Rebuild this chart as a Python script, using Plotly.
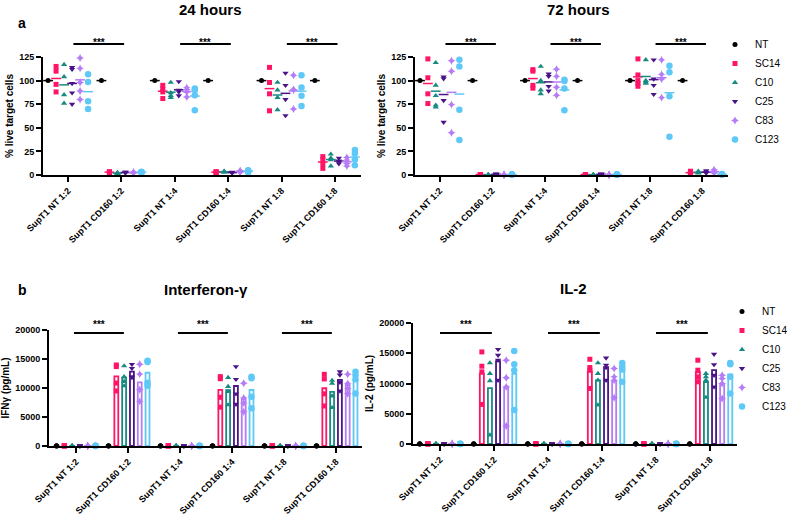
import plotly.graph_objects as go

# ---------------- data ----------------
categories = ["SupT1 NT 1:2", "SupT1 CD160 1:2", "SupT1 NT 1:4",
              "SupT1 CD160 1:4", "SupT1 NT 1:8", "SupT1 CD160 1:8"]
series = ["NT", "SC14", "C10", "C25", "C83", "C123"]

# % live target cells, 24 hours (replicates per category)
kill_24h = {
    "NT":   [[100], [100], [100], [100], [100], [100]],
    "SC14": [[115, 110, 96, 88], [3.5, 3, 2.5, 3], [95, 91, 88, 81], [3.5, 3, 3, 2.5], [114, 98, 86, 68], [19.5, 16.5, 12, 7]],
    "C10":  [[117, 104, 85, 76], [2.5, 2, 1.5, 2], [98, 87, 84, 82], [4, 3, 3.5, 3], [98, 90, 82, 69], [22, 18, 16, 9.5]],
    "C25":  [[114, 112, 97, 87, 75], [3, 2.5, 3, 2], [99, 90, 88, 84], [2.5, 2, 3, 2.5], [108, 95, 80, 63], [18, 15, 14, 12]],
    "C83":  [[124, 113, 98, 89, 80], [3, 2.5, 3, 2], [92.6, 90.5, 88, 82.7], [4, 3.5, 4.5, 3], [105.6, 90.5, 90, 70], [18.6, 15.8, 12.3, 9.5]],
    "C123": [[106.6, 98.5, 78, 70], [3.5, 3, 3, 2.5], [91.5, 90, 84.5, 68.6], [5, 4.5, 3.5, 3], [105.6, 92.6, 84, 73], [26.4, 22.9, 16.5, 10.2]],
}

# % live target cells, 72 hours
kill_72h = {
    "NT":   [[100], [100], [100], [100], [100], [100]],
    "SC14": [[123, 103, 86, 75.7], [0.5, 0.5, 0.5, 0.5], [111.6, 110, 95, 92], [0.5, 0.5, 0.5, 0.5], [123, 106, 100, 97, 94], [4, 2.5, 2, 1.5]],
    "C10":  [[119, 95, 84, 74, 72], [0.3, 0.3, 0.3, 0.3], [115, 100, 90, 86], [0.3, 0.3, 0.3, 0.3], [122, 100, 98.5, 97], [4, 3, 2.5, 2]],
    "C25":  [[104, 102, 79, 56], [0.8, 0.8, 0.8, 0.8], [107, 104.5, 94, 89], [0.8, 0.8, 0.8, 0.8], [122, 101.7, 95, 85.5], [4.5, 3, 2.5, 2]],
    "C83":  [[121, 110, 74.6, 44.7], [0.3, 0.3, 0.3, 0.3], [112, 104.5, 93, 84.5], [0.3, 0.3, 0.3, 0.3], [122, 106.6, 101.7, 82], [5.5, 4, 3, 2]],
    "C123": [[122, 115, 69, 37], [0.5, 0.5, 0.5, 0.5], [101, 99.6, 91.5, 68.6], [0.5, 0.5, 0.5, 0.5], [115.8, 108.8, 83.4, 40.5], [1, 0.8, 0.6, 0.5]],
}

# Interferon-gamma (pg/mL)
ifng = {
    "NT":   [[20, 10, 30], [20, 10, 30], [20, 10, 30], [20, 10, 30], [20, 10, 30], [20, 10, 30]],
    "SC14": [[40, 20, 30, 10], [13970, 13690, 10850, 9490], [30, 20, 40, 10], [11960, 11600, 8400, 6700], [30, 20, 40, 10], [12360, 11560, 9000, 6900]],
    "C10":  [[40, 20, 30, 10], [13800, 11960, 11100, 10350], [30, 20, 40, 10], [11790, 10240, 9370, 7070], [30, 20, 40, 10], [11300, 10800, 8600, 6600]],
    "C25":  [[40, 20, 30, 10], [14090, 13400, 11960, 11830], [30, 20, 40, 10], [13690, 11500, 9000, 7200], [30, 20, 40, 10], [12820, 12250, 11000, 9500]],
    "C83":  [[40, 20, 30, 10], [14100, 12400, 9700, 7700], [30, 20, 40, 10], [10810, 8300, 7400, 5900], [30, 20, 40, 10], [12360, 10800, 9900, 9000]],
    "C123": [[40, 20, 30, 10], [14700, 14500, 10900, 10400], [30, 20, 40, 10], [11960, 11670, 8500, 6500], [30, 20, 40, 10], [12820, 12200, 11500, 9050]],
}

# IL-2 (pg/mL)
il2 = {
    "NT":   [[20, 10, 30], [20, 10, 30], [20, 10, 30], [20, 10, 30], [20, 10, 30], [20, 10, 30]],
    "SC14": [[40, 20, 30, 10], [15220, 12860, 11920, 6540], [30, 20, 40, 10], [14010, 12640, 12200, 9180], [30, 20, 40, 10], [13850, 12200, 11100, 10280]],
    "C10":  [[40, 20, 30, 10], [13400, 11650, 10440, 1480], [30, 20, 40, 10], [13400, 11650, 10550, 6430], [30, 20, 40, 10], [11650, 11100, 10550, 7690]],
    "C25":  [[40, 20, 30, 10], [15660, 14670, 13850, 10550], [30, 20, 40, 10], [14230, 13020, 12640, 10550], [30, 20, 40, 10], [14840, 13130, 11370, 9450]],
    "C83":  [[40, 20, 30, 10], [13850, 10940, 9450, 2970], [30, 20, 40, 10], [12470, 11100, 10550, 7650], [30, 20, 40, 10], [11370, 10830, 10000, 7530]],
    "C123": [[40, 20, 30, 10], [15390, 13190, 12200, 5600], [30, 20, 40, 10], [13400, 12800, 12300, 10300], [30, 20, 40, 10], [13400, 13190, 11100, 8350]],
}

sig_pairs = [(0, 1), (2, 3), (4, 5)]
sig_label = "***"

# ---------------- styles ----------------
colors = {"NT": "#000000", "SC14": "#FF1467", "C10": "#178A82", "C25": "#4A1488",
          "C83": "#B57CF6", "C123": "#5EC8F6"}
symbols = {"NT": "circle", "SC14": "square", "C10": "triangle-up", "C25": "triangle-down",
           "C83": "star-diamond", "C123": "circle"}
msize = {"NT": 5, "SC14": 5, "C10": 5.5, "C25": 5.5, "C83": 6, "C123": 6.5}
offsets = {"NT": -0.375, "SC14": -0.225, "C10": -0.075, "C25": 0.075, "C83": 0.225, "C123": 0.375}
FONT = "Liberation Sans"

fig = go.Figure()


def mean(v):
    return sum(v) / len(v)


def add_dot_panel(data, xa, ya, show_legend, legend_name):
    for s in series:
        xs, ys = [], []
        for i, reps in enumerate(data[s]):
            xs += [i + offsets[s]] * len(reps)
            ys += reps
        fig.add_trace(go.Scatter(
            x=xs, y=ys, mode="markers", name=s, xaxis=xa, yaxis=ya,
            legend=legend_name, showlegend=show_legend, cliponaxis=False,
            marker=dict(symbol=symbols[s], size=msize[s], color=colors[s], line=dict(width=0))))
        fig.add_trace(go.Scatter(
            x=[i + offsets[s] for i in range(len(categories))],
            y=[mean(r) for r in data[s]], mode="markers", xaxis=xa, yaxis=ya,
            showlegend=False, hoverinfo="skip", cliponaxis=False,
            marker=dict(symbol="line-ew", size=7, color=colors[s],
                        line=dict(width=1.5, color=colors[s]))))


def add_bar_panel(data, xa, ya, show_legend, legend_name):
    for s in series:
        fig.add_trace(go.Bar(
            x=[i + offsets[s] for i in range(len(categories))],
            y=[mean(r) for r in data[s]], width=0.075, xaxis=xa, yaxis=ya,
            showlegend=False, hoverinfo="skip",
            marker=dict(color="white", line=dict(color=colors[s], width=1.8))))
    for s in series:
        xs, ys = [], []
        for i, reps in enumerate(data[s]):
            xs += [i + offsets[s]] * len(reps)
            ys += reps
        fig.add_trace(go.Scatter(
            x=xs, y=ys, mode="markers", name=s, xaxis=xa, yaxis=ya,
            legend=legend_name, showlegend=show_legend, cliponaxis=False,
            marker=dict(symbol=symbols[s], size=msize[s], color=colors[s], line=dict(width=0))))


add_dot_panel(kill_24h, "x", "y", True, "legend")
add_dot_panel(kill_72h, "x2", "y2", False, "legend")
add_bar_panel(ifng, "x3", "y3", True, "legend2")
add_bar_panel(il2, "x4", "y4", False, "legend2")

W, H = 794, 521


def fx(px):
    return px / W


def fy(py):
    return 1 - py / H


def px_x(a, b):
    return [fx(a), fx(b)]


def px_y(top, bottom):
    return [fy(bottom), fy(top)]


axis_style = dict(showline=True, linecolor="black", linewidth=2, ticks="outside",
                  ticklen=5, tickwidth=2, tickcolor="black", showgrid=False, zeroline=False,
                  automargin=False,
                  tickfont=dict(family=FONT, size=9, color="black", weight="bold"))
title_font = dict(family=FONT, size=10, color="black", weight="bold")

xcommon = dict(axis_style, tickmode="array", tickvals=list(range(len(categories))),
               ticktext=categories, tickangle=-45)

fig.update_layout(
    template="none",
    width=W, height=H, margin=dict(l=0, r=0, t=0, b=0, autoexpand=False),
    paper_bgcolor="white", plot_bgcolor="white", barmode="overlay",
    font=dict(family=FONT, color="black"),
    xaxis=dict(xcommon, domain=px_x(43, 361), range=[-0.47, 5.49], anchor="y"),
    yaxis=dict(axis_style, domain=px_y(57, 175), range=[0, 125], tickvals=[0, 25, 50, 75, 100, 125],
               anchor="x", title=dict(text="% live target cells", font=title_font, standoff=4)),
    xaxis2=dict(xcommon, domain=px_x(415, 728), range=[-0.47, 5.49], anchor="y2"),
    yaxis2=dict(axis_style, domain=px_y(57, 175), range=[0, 125], tickvals=[0, 25, 50, 75, 100, 125],
                anchor="x2", title=dict(text="% live target cells", font=title_font, standoff=4)),
    xaxis3=dict(xcommon, domain=px_x(49, 362), range=[-0.52, 5.5], anchor="y3"),
    yaxis3=dict(axis_style, domain=px_y(330, 446), range=[0, 20000], tickvals=[0, 5000, 10000, 15000, 20000],
                tickformat="d", anchor="x3", title=dict(text="IFNγ (pg/mL)", font=title_font, standoff=4)),
    xaxis4=dict(xcommon, domain=px_x(413, 737), range=[-0.5, 5.5], anchor="y4"),
    yaxis4=dict(axis_style, domain=px_y(323, 444), range=[0, 20000], tickvals=[0, 5000, 10000, 15000, 20000],
                tickformat="d", anchor="x4", title=dict(text="IL-2 (pg/mL)", font=title_font, standoff=4)),
    legend=dict(x=fx(715), y=fy(30), xanchor="left", yanchor="top",
                font=dict(family=FONT, size=10, color="black"), bgcolor="rgba(0,0,0,0)",
                itemsizing="trace", traceorder="normal"),
    legend2=dict(x=fx(722), y=fy(297), xanchor="left", yanchor="top",
                 font=dict(family=FONT, size=10, color="black"), bgcolor="rgba(0,0,0,0)",
                 itemsizing="trace", traceorder="normal"),
)

# significance bars and stars
sig_rows = [("x", 44, 35, 0.1, 0.05), ("x2", 44, 35, 0.11, 0.07),
            ("x3", 333, 324, -0.04, -0.08), ("x4", 333, 324, 0.0, -0.04)]
for xa, line_px, star_px, d0, d1 in sig_rows:
    for a, b in sig_pairs:
        fig.add_shape(type="line", xref=xa, yref="paper", x0=a + d0, x1=b + d1,
                      y0=fy(line_px), y1=fy(line_px), line=dict(color="black", width=1.8))
        fig.add_annotation(x=(a + d0 + b + d1) / 2, y=fy(star_px), xref=xa, yref="paper",
                           text=sig_label, showarrow=False,
                           font=dict(family=FONT, size=10, color="black", weight="bold"))

# panel titles and labels
for txt, cx, cy, size in [("24 hours", 210, 10, 15), ("72 hours", 578, 10, 15),
                          ("Interferon-γ", 206, 289, 15), ("IL-2", 573, 288, 15),
                          ("a", 22, 23, 14), ("b", 22, 290, 14)]:
    fig.add_annotation(x=fx(cx), y=fy(cy), xref="paper", yref="paper", text=txt,
                       showarrow=False, xanchor="center", yanchor="middle",
                       font=dict(family=FONT, size=size, color="black", weight="bold"))

# the browser's default 8px body margin would push the 794x521 figure off the window
fig.write_html("out.html", config={"displayModeBar": False},
               post_script="document.body.style.margin = '0px';")
